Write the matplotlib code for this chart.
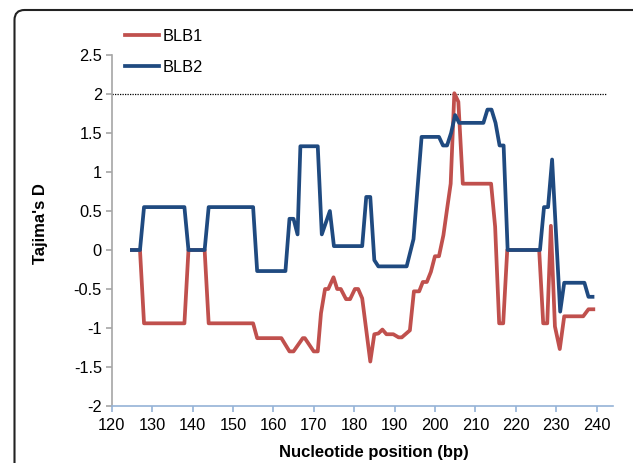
import matplotlib
matplotlib.use("Agg")
import matplotlib.pyplot as plt
from matplotlib.patches import FancyBboxPatch
from matplotlib.ticker import FuncFormatter

plt.rcParams['font.family'] = ['Liberation Sans', 'DejaVu Sans']
plt.rcParams['axes.unicode_minus'] = False

# ---- data ----
blb1_x = [125, 127, 128, 138, 139, 143, 144, 155, 156, 162, 164, 165, 167.3, 167.8,
          170, 171, 171.8, 172.8, 173.6, 174.9, 175.8, 176.7, 178, 179, 180.2, 181,
          182, 184, 185, 186, 187, 188, 189.7, 191, 191.8, 193.8, 194.8, 196.1, 197,
          198, 199, 200, 201, 202.1, 203.1, 203.9, 204.8, 205.8, 206.9, 213.9, 214.9,
          215.9, 216.9, 217.9, 225.8, 226.8, 227.8, 228.7, 229.7, 230.9, 232, 236.7,
          238, 239.2]
blb1_y = [0, 0, -0.94, -0.94, 0, 0, -0.94, -0.94, -1.13, -1.13, -1.3, -1.3, -1.13, -1.13,
          -1.3, -1.3, -0.81, -0.5, -0.5, -0.35, -0.5, -0.5, -0.63, -0.63, -0.5, -0.5,
          -0.62, -1.43, -1.08, -1.07, -1.02, -1.08, -1.08, -1.12, -1.12, -1.03, -0.53, -0.53, -0.41,
          -0.41, -0.28, -0.08, -0.08, 0.19, 0.56, 0.85, 2.01, 1.9, 0.85, 0.85, 0.3,
          -0.94, -0.94, 0, 0, -0.94, -0.94, 0.31, -0.98, -1.27, -0.85, -0.85,
          -0.76, -0.76]

blb2_x = [125, 127, 128, 138, 139, 143, 144, 155, 156, 163, 164, 165, 166, 166.7, 171,
          172, 174, 175, 182, 183, 184, 185, 186, 193, 194.7, 196.7, 201, 202, 203, 204,
          205, 206, 212, 213, 214, 215, 216, 217, 218, 226, 227, 228, 229, 231, 232,
          237, 238, 239]
blb2_y = [0, 0, 0.55, 0.55, 0, 0, 0.55, 0.55, -0.27, -0.27, 0.4, 0.4, 0.2, 1.33, 1.33,
          0.2, 0.5, 0.05, 0.05, 0.68, 0.68, -0.13, -0.21, -0.21, 0.14, 1.45, 1.45, 1.34, 1.34, 1.5,
          1.73, 1.63, 1.63, 1.8, 1.8, 1.63, 1.34, 1.34, 0, 0, 0.55, 0.55, 1.16, -0.79, -0.42,
          -0.42, -0.6, -0.6]

threshold = 2.0
threshold_span = (120, 242.5)
x_ticks = list(range(120, 241, 10))
y_ticks = [2.5, 2, 1.5, 1, 0.5, 0, -0.5, -1, -1.5, -2]

red = '#c0504d'
blue = '#1f4a80'

fig = plt.figure(figsize=(6.33, 4.63), dpi=100)
ax = fig.add_axes([111.7 / 633, 1 - 406 / 463, 501 / 633, 351 / 463])

ax.hlines(threshold, *threshold_span, colors='black', linestyles=(0, (1, 1)), linewidth=0.9)
l1, = ax.plot(blb1_x, blb1_y, color=red, linewidth=2.7, solid_joinstyle='round', label='BLB1')
l2, = ax.plot(blb2_x, blb2_y, color=blue, linewidth=2.7, solid_joinstyle='round', label='BLB2')

ax.set_xlim(120, 244)
ax.set_ylim(-2, 2.5)
ax.set_xticks(x_ticks)
ax.set_yticks(y_ticks)
ax.yaxis.set_major_formatter(FuncFormatter(lambda v, p: '%g' % v))

for s in ['top', 'right']:
    ax.spines[s].set_visible(False)
ax.spines['left'].set_color('#a6a6a6')
ax.spines['left'].set_linewidth(1.2)
ax.spines['bottom'].set_color('#95b3d7')
ax.spines['bottom'].set_linewidth(1.2)
ax.tick_params(axis='y', direction='out', length=4, width=1.2, color='#a6a6a6',
               labelsize=11.8, pad=3)
ax.tick_params(axis='x', direction='out', length=4, width=1.2, color='#95b3d7',
               labelsize=11.8, pad=5)

ax.set_xlabel('Nucleotide position (bp)', fontsize=12, fontweight='bold')
ax.xaxis.set_label_coords((373.7 - 111.7) / 501, -(453 - 406) / 351, transform=ax.transAxes)
ax.xaxis.label.set_va('center')
ax.set_ylabel("Tajima's D", fontsize=12, fontweight='bold')
ax.yaxis.set_label_coords(-(111.7 - 41) / 501, (406 - 224) / 351)
ax.yaxis.label.set_va('center')

fig.legend(handles=[l1, l2], loc='upper left', bbox_to_anchor=(125 / 633, 1 - 29 / 463),
           frameon=False, fontsize=11.8, handlelength=2.1, handletextpad=0.2,
           labelspacing=0.95, borderpad=0, borderaxespad=0)

box = FancyBboxPatch((0.145, -0.4), 6.3, 4.93, boxstyle='round,pad=0,rounding_size=0.1',
                     transform=fig.dpi_scale_trans, facecolor='none', edgecolor='#222222',
                     linewidth=1.5, clip_on=False)
fig.add_artist(box)

fig.savefig('out.png', dpi=100)
